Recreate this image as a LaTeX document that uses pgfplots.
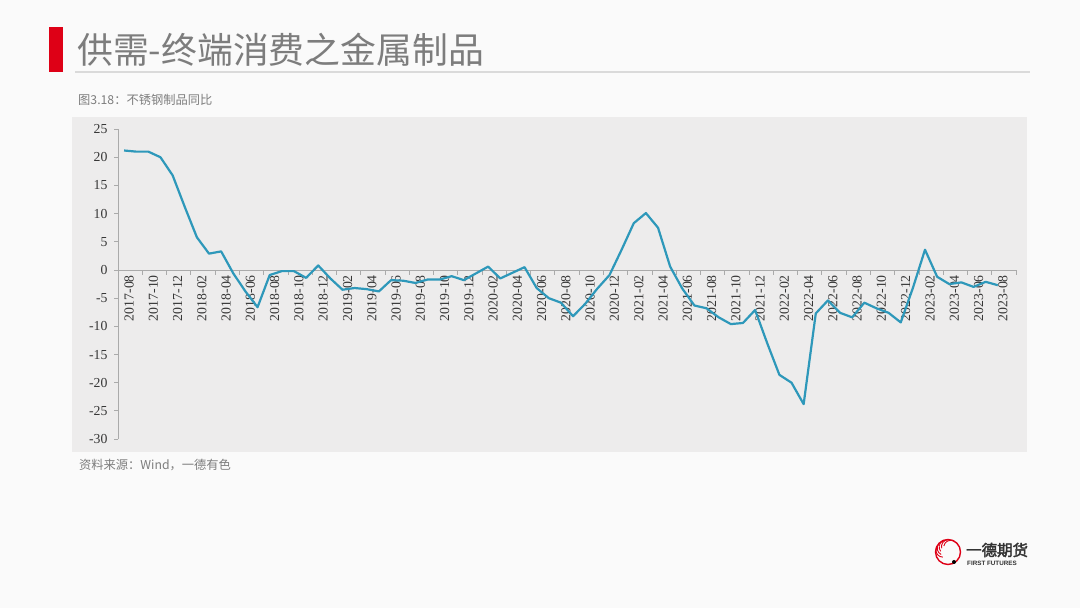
\documentclass[border=0pt]{standalone}
\usepackage{pgfplots}
\pgfplotsset{compat=1.18}
\usepackage{fontspec}
\setmainfont{Liberation Serif}
\newfontfamily\cjk{Noto Sans CJK SC}
\newfontfamily\cjkb{Noto Sans CJK SC}[FakeBold=2.5]
\newfontfamily\lsans{Liberation Sans}
\definecolor{bgc}{RGB}{250,250,250}
\definecolor{plotbg}{RGB}{237,236,236}
\definecolor{linec}{RGB}{46,152,186}
\definecolor{titlegray}{RGB}{125,125,125}
\definecolor{redbar}{RGB}{222,0,22}
\definecolor{axisgray}{RGB}{170,170,170}
\definecolor{tickc}{RGB}{55,55,55}
\definecolor{ulgray}{RGB}{218,218,218}
\begin{document}
\begin{tikzpicture}[x=1bp,y=1bp]
\fill[bgc] (0,0) rectangle (1080,608);
\path[use as bounding box] (0,0) rectangle (1080,608);
% title
\fill[redbar] (49,536) rectangle (63,581);
\draw[ulgray, line width=1.5bp] (75,536) -- (1030,536);
\node[anchor=west, inner sep=0] at (77,558) {\cjk\fontsize{36}{40}\selectfont\color{titlegray}供需-终端消费之金属制品};
\node[anchor=west, inner sep=0] at (78,508) {\cjk\fontsize{12.3}{14}\selectfont\color{titlegray}图3.18：不锈钢制品同比};
% plot background
\fill[plotbg] (72,156) rectangle (1027,491);
\node[anchor=west, inner sep=0] at (79,143) {\cjk\fontsize{12.3}{14}\selectfont\color{titlegray}资料来源：Wind，一德有色};
% logo
\draw[redbar, line width=1.4bp] (948,56) circle (12.5);
\foreach \a in {0,25,50,75,100}{
  \draw[redbar, line width=0.9bp] (948,56) ++(\a+60:12.5) arc[start angle=\a+60, end angle=\a+170, radius=7];
}
\fill[black] (954,46) circle (2);
\node[anchor=west, inner sep=0] at (966,58) {\cjkb\fontsize{15.5}{16}\selectfont\color{black!80}一德期货};
\node[anchor=west, inner sep=0] at (967,45) {\lsans\bfseries\fontsize{6.3}{7}\selectfont\color{black!80}FIRST FUTURES};
\begin{axis}[
  at={(124.07bp,338bp)}, anchor=origin,
  scale only axis, width=898bp, height=310bp,
  xmin=-0.5, xmax=73.5, ymin=-30, ymax=25,
  axis x line=middle, axis y line=left,
  axis line style={-, draw=axisgray, line width=0.8bp},
  tick align=outside,
  xtick={0,2,...,72},
  xticklabels={2017-08,2017-10,2017-12,2018-02,2018-04,2018-06,2018-08,2018-10,2018-12,2019-02,2019-04,2019-06,2019-08,2019-10,2019-12,2020-02,2020-04,2020-06,2020-08,2020-10,2020-12,2021-02,2021-04,2021-06,2021-08,2021-10,2021-12,2022-02,2022-04,2022-06,2022-08,2022-10,2022-12,2023-02,2023-04,2023-06,2023-08},
  major x tick style={draw=none},
  minor xtick={-0.5,1.5,...,73.5},
  minor tick length=5bp,
  minor x tick style={draw=axisgray, line width=0.8bp},
  x tick label style={rotate=90, anchor=east, font=\fontsize{13.8}{14}\selectfont, text=tickc, inner sep=1bp, yshift=-5bp},
  ytick={-30,-25,-20,-15,-10,-5,0,5,10,15,20,25},
  yticklabels={-30,-25,-20,-15,-10,-5,0,5,10,15,20,25},
  major tick length=4bp,
  y tick style={draw=axisgray, line width=0.8bp},
  y tick label style={font=\fontsize{13.8}{14}\selectfont, text=tickc, xshift=-3bp},
  clip=false,
]
\addplot[linec, line width=2.2bp, line join=round] coordinates {
(0,21.2) (1,21.0) (2,21.0) (3,20.0) (4,16.8) (5,11.2) (6,5.8) (7,2.9) (8,3.3) (9,-0.6)
(10,-3.8) (11,-6.6) (12,-0.9) (13,-0.2) (14,-0.2) (15,-1.4) (16,0.8) (17,-1.5) (18,-3.5) (19,-3.2)
(20,-3.4) (21,-3.8) (22,-1.8) (23,-1.9) (24,-2.3) (25,-1.7) (26,-1.7) (27,-1.1) (28,-1.8) (29,-0.6)
(30,0.6) (31,-1.5) (32,-0.5) (33,0.5) (34,-3.2) (35,-5.0) (36,-5.8) (37,-8.2) (38,-6.0) (39,-3.3)
(40,-0.9) (41,3.6) (42,8.3) (43,10.1) (44,7.5) (45,0.6) (46,-3.3) (47,-6.3) (48,-6.8) (49,-8.4)
(50,-9.6) (51,-9.4) (52,-7.1) (53,-13.0) (54,-18.6) (55,-20.0) (56,-23.8) (57,-7.7) (58,-5.4) (59,-7.6)
(60,-8.4) (61,-5.8) (62,-6.8) (63,-7.6) (64,-9.3) (65,-3.2) (66,3.6) (67,-1.2) (68,-2.5) (69,-2.2)
(70,-3.0) (71,-2.1) (72,-2.7)
};
\end{axis}
\end{tikzpicture}
\end{document}
